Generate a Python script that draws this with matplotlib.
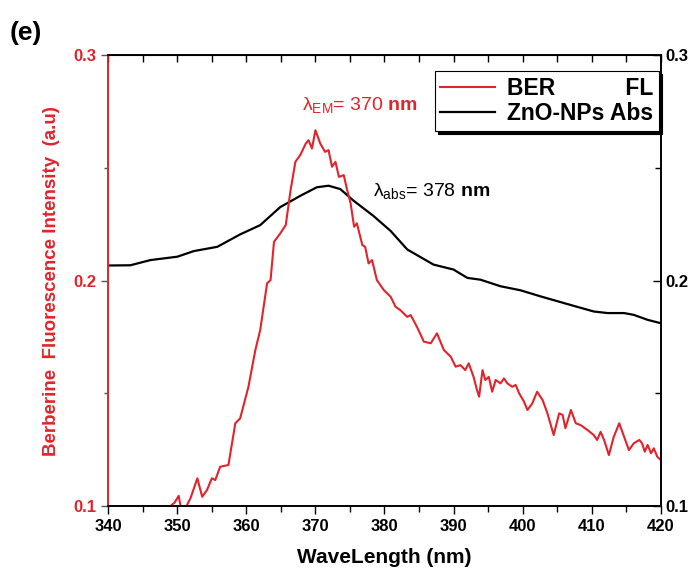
import matplotlib
matplotlib.use("Agg")
import matplotlib.pyplot as plt
from matplotlib.ticker import MultipleLocator

plt.rcParams['font.family'] = ['Liberation Sans', 'DejaVu Sans']
plt.rcParams['mathtext.fontset'] = 'custom'
plt.rcParams['mathtext.rm'] = 'Liberation Sans'
plt.rcParams['mathtext.bf'] = 'Liberation Sans:bold'
plt.rcParams['mathtext.it'] = 'Liberation Sans:italic'

# Berberine fluorescence (left axis)
wl_fl = [348.5, 349.0, 349.6, 350.2, 350.7, 351.4, 351.9, 352.9, 353.6, 354.3, 355.0, 355.5,
         356.2, 357.4, 358.4, 359.1, 360.3, 361.3, 362.0, 363.0, 363.5, 364.0, 364.9, 365.7,
         366.4, 367.1, 367.8, 368.6, 369.0, 369.5, 370.0, 370.7, 371.4, 371.9, 372.4, 372.9,
         373.4, 374.1, 374.6, 375.1, 375.6, 376.0, 376.8, 377.2, 377.7, 378.2, 378.9, 379.9,
         380.9, 381.6, 382.3, 383.3, 383.8, 384.7, 385.7, 386.7, 387.6, 388.6, 389.6, 390.3,
         391.0, 391.7, 392.2, 392.9, 393.4, 393.7, 394.2, 394.6, 395.1, 395.6, 396.1, 396.8,
         397.3, 397.8, 398.5, 399.0, 399.5, 400.2, 400.7, 401.4, 402.1, 402.9, 403.6, 404.5,
         405.3, 405.8, 406.2, 407.0, 407.7, 408.4, 409.4, 410.3, 410.8, 411.3, 411.8, 412.5,
         413.2, 414.0, 414.7, 415.4, 416.1, 416.9, 417.3, 417.7, 418.1, 418.6, 419.0, 419.5, 420.0]
fl = [0.0950, 0.1000, 0.1015, 0.1045, 0.0960, 0.1004, 0.1034, 0.1123, 0.1041, 0.1071, 0.1123, 0.1115,
      0.1174, 0.1182, 0.1367, 0.1389, 0.1529, 0.1692, 0.1780, 0.1988, 0.2002, 0.2172, 0.2209, 0.2246,
      0.2401, 0.2527, 0.2557, 0.2608, 0.2623, 0.2586, 0.2667, 0.2608, 0.2571, 0.2579, 0.2505, 0.2527,
      0.2460, 0.2468, 0.2401, 0.2342, 0.2239, 0.2254, 0.2157, 0.2150, 0.2076, 0.2091, 0.2002, 0.1958,
      0.1928, 0.1884, 0.1869, 0.1839, 0.1847, 0.1795, 0.1729, 0.1722, 0.1766, 0.1692, 0.1662, 0.1618,
      0.1625, 0.1603, 0.1633, 0.1573, 0.1514, 0.1485, 0.1603, 0.1559, 0.1573, 0.1507, 0.1559, 0.1544,
      0.1566, 0.1544, 0.1529, 0.1537, 0.1500, 0.1463, 0.1426, 0.1455, 0.1507, 0.1470, 0.1411, 0.1315,
      0.1411, 0.1404, 0.1345, 0.1426, 0.1367, 0.1359, 0.1337, 0.1315, 0.1293, 0.1329, 0.1293, 0.1226,
      0.1307, 0.1367, 0.1307, 0.1248, 0.1278, 0.1293, 0.1278, 0.1241, 0.1271, 0.1234, 0.1256, 0.1219, 0.1204]

# ZnO-NPs absorbance (right axis)
wl_abs = [340.0, 343.2, 346.1, 350.0, 352.4, 355.8, 359.1, 362.0, 364.9, 367.8, 370.2, 371.9,
          373.6, 375.5, 378.4, 380.9, 383.3, 387.1, 390.0, 392.0, 393.9, 396.8, 399.7, 402.6,
          407.4, 410.3, 412.3, 414.7, 416.1, 418.1, 420.0]
absorb = [0.2067, 0.2068, 0.2091, 0.2106, 0.2131, 0.2150, 0.2205, 0.2246, 0.2326, 0.2376, 0.2414, 0.2421,
          0.2406, 0.2355, 0.2287, 0.2220, 0.2138, 0.2071, 0.2049, 0.2012, 0.2004, 0.1975, 0.1957, 0.1930,
          0.1888, 0.1863, 0.1856, 0.1856, 0.1848, 0.1826, 0.1811]

x_ticks = [340, 350, 360, 370, 380, 390, 400, 410, 420]
y_ticks = [0.1, 0.2, 0.3]

RED = '#e3232b'

fig = plt.figure(figsize=(6.94, 5.75), dpi=100)
ax = fig.add_axes([0.156, 0.12, 0.796, 0.784])
ax2 = ax.twinx()

l1, = ax.plot(wl_fl, fl, color=RED, lw=1.5, label='BER           FL')
l2, = ax2.plot(wl_abs, absorb, color='black', lw=1.6, label='ZnO-NPs Abs')

ax.set_xlim(340, 420)
ax.set_ylim(0.1, 0.3)
ax2.set_ylim(0.1, 0.3)

ax.set_xticks(x_ticks)
ax.set_xticklabels([str(t) for t in x_ticks], fontsize=12, fontweight='bold')
ax.xaxis.set_minor_locator(MultipleLocator(5))
ax.tick_params(axis='x', which='major', direction='out', length=6, width=1, top=False)
ax.tick_params(axis='x', which='minor', direction='out', length=4, width=1, top=False)

ax.set_yticks(y_ticks)
ax.set_yticklabels(['0.1', '0.2', '0.3'], fontsize=12, fontweight='bold', color=RED)
ax.yaxis.set_minor_locator(MultipleLocator(0.05))
ax.tick_params(axis='y', which='major', direction='out', length=5, width=1, color='#555555')
ax.tick_params(axis='y', which='minor', direction='out', length=3, width=1, color='#555555')

ax2.set_yticks(y_ticks)
ax2.set_yticklabels(['0.1', '0.2', '0.3'], fontsize=12, fontweight='bold')
ax2.yaxis.set_minor_locator(MultipleLocator(0.05))
ax2.tick_params(axis='y', which='major', direction='in', length=6, width=1)
ax2.tick_params(axis='y', which='minor', direction='in', length=4, width=1)

# top ticks via secondary x axis
sec = ax.secondary_xaxis('top')
sec.set_xticks([340 + 5 * i for i in range(17)])
sec.tick_params(axis='x', direction='in', length=5, width=1, labeltop=False)

for a in (ax, ax2):
    for s in a.spines.values():
        s.set_linewidth(1.2)
ax.spines['left'].set_color(RED)
ax2.spines['left'].set_color(RED)

ax.set_xlabel('WaveLength (nm)', fontsize=15, fontweight='bold', labelpad=10)
ax.set_ylabel('Berberine  Fluorescence Intensity  (a.u)', fontsize=13.5, fontweight='bold',
              color=RED, labelpad=10)

ax.text(368.1, 0.2755, 'λ$_{\\mathrm{EM}}$= 370 $\\mathbf{nm}$', color=RED, fontsize=14)
ax.text(378.3, 0.2375, 'λ$_{\\mathrm{abs}}$= 378 $\\mathbf{nm}$', color='black', fontsize=14)

leg = ax.legend(handles=[l1, l2], loc='upper right', bbox_to_anchor=(0.997, 0.965),
                borderaxespad=0, prop={'weight': 'bold', 'size': 16.5}, frameon=True, fancybox=False,
                shadow={'color': 'black', 'alpha': 1.0}, handlelength=2.4, handletextpad=0.5,
                borderpad=0.25, labelspacing=0.1, edgecolor='black', framealpha=1)
leg.get_frame().set_linewidth(0.8)
leg.set_zorder(10)
ax.set_zorder(ax2.get_zorder() + 1)
ax.patch.set_visible(False)

fig.text(0.014, 0.93, '(e)', fontsize=19, fontweight='bold')

fig.savefig('out.png', dpi=100)
